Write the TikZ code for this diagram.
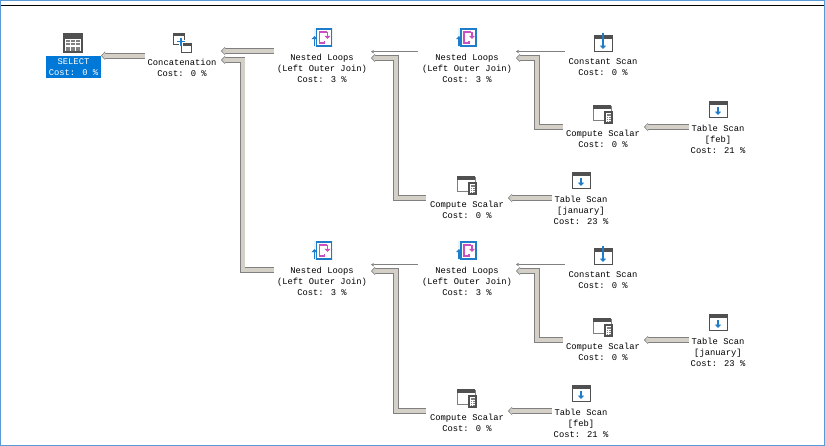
\documentclass[tikz,border=0pt]{standalone}
\usepackage{fontspec}
\setmainfont{Liberation Mono}
\usetikzlibrary{arrows.meta}
\definecolor{shaft}{HTML}{D4D0C8}
\definecolor{edge}{HTML}{808080}
\definecolor{frameblue}{HTML}{5B9BD5}
\definecolor{selblue}{HTML}{0078D7}
\definecolor{icoblue}{HTML}{1E7CC8}
\definecolor{icomag}{HTML}{C850C0}
\definecolor{icodark}{HTML}{505050}
\tikzset{
  x=0.75pt,y=-0.75pt,
  oplabel/.style={align=center,inner sep=0pt,font=\fontsize{6.6}{8.25}\selectfont,text=black},
  fat/.style={line width=4.2pt,draw=edge,line join=miter,
    -{Triangle[length=3pt,width=6.2pt]},
    postaction={draw=shaft,line width=3pt,shorten >=0.8pt,-{Triangle[length=2.2pt,width=4.6pt]}}},
  fatb/.style={line width=3.9pt,draw=edge,line join=miter,
    -{Triangle[length=3pt,width=6pt]},
    postaction={draw=shaft,line width=2.7pt,shorten >=0.8pt,-{Triangle[length=2.2pt,width=4.4pt]}}},
  thin conn/.style={line width=0.75pt,draw=edge,-{Triangle[length=2pt,width=2.4pt]}},
  win/.style={draw=icodark,line width=0.75pt,fill=white},
  pics/tscan/.style={code={
    \draw[win] (-9,-8) rectangle (9,8);
    \fill[icodark] (-9,-8) rectangle (9,-4);
    \draw[icoblue,line width=1.1pt,-{Triangle[length=2.6pt,width=4.6pt]}] (0,-2) -- (0,6);
  }},
  pics/cscan/.style={code={
    \draw[win] (-9,-8) rectangle (9,8);
    \fill[icodark] (-9,-8) rectangle (9,-4);
    \draw[icoblue,line width=1.1pt,-{Triangle[length=2.6pt,width=4.6pt]}] (0,-10) -- (0,6);
  }},
  pics/cscalar/.style={code={
    \draw[win,draw=gray] (-9,-8) -- (-9,6) -- (9,6) -- (9,-8) -- cycle;
    \fill[icodark] (-9,-9) rectangle (9,-5);
    \draw[icodark,line width=0.9pt,fill=white] (3,-2) rectangle (10,9);
    \fill[gray] (4.5,-0.5) rectangle (8.5,1.5);
    \foreach \yy in {3,5,7}{\fill[gray] (4.5,\yy) rectangle (6,\yy+1);\fill[gray] (7.2,\yy) rectangle (8.6,\yy+1);}
  }},
  pics/nloop/.style={code={
    \fill[icoblue!10] (-9,-10) rectangle (10,9);
    \draw[icoblue,line width=0.9pt,fill=white] (-6,-9) rectangle (9,8);
    \draw[icomag,line width=1.1pt] (2,-6) -- (-3,-6) -- (-3,5) -- (2,5) -- (2,3) (2,-6) -- (4,-6);
    \draw[icomag,line width=1.1pt,-{Triangle[length=2.4pt,width=4.4pt]}] (5,-6) -- (5,1);
    \draw[icoblue,line width=1pt,-{Triangle[length=2.4pt,width=4.6pt]}] (-8,8) -- (-8,-2);
  }},
  pics/seltab/.style={code={
    \fill[gray!25] (-9.5,-9.5) rectangle (9.5,9.5);
    \fill[icodark] (-9,-9) rectangle (9,-4.5);
    \fill[white] (-9,-4.5) rectangle (9,9);
    \draw[icodark,line width=0.9pt] (-9,-9) rectangle (9,9);
    \foreach \yy in {-3.5,0,3.5,6}{\foreach \xx in {-7.5,-2.5,2.5}{\fill[gray] (\xx,\yy) rectangle (\xx+4.2,\yy+2);}}
  }},
  pics/concat/.style={code={
    \draw[win] (-9,-9) rectangle (2,2);
    \fill[icodark] (-9,-9) rectangle (2,-6.5);
    \draw[win] (-1,1) rectangle (9.5,10);
    \fill[icodark] (-1,1) rectangle (9.5,3.5);
    \draw[white,line width=2.4pt] (-1,-5.5) -- (-1,3.5) (-5.5,-1) -- (3.5,-1);
    \draw[icoblue,line width=1.4pt] (-1,-5) -- (-1,3) (-5,-1) -- (3,-1);
  }},
}
\newcommand{\branch}[6]{%
  % #1 suffix, #2 y offset, #3 inner scan name, #4 inner cost, #5 outer scan name, #6 outer cost
  \begin{scope}[yshift=#2*-0.75pt]
    \pic at (322.5,38) {nloop};
    \node[oplabel] (nlo#1) at (322,68.5) {Nested Loops\\(Left Outer Join)\\Cost: 3 \%};
    \pic at (467,38) {nloop};
    \node[oplabel] (nli#1) at (467,68.5) {Nested Loops\\(Left Outer Join)\\Cost: 3 \%};
    \pic at (603,43) {cscan};
    \node[oplabel] (cs#1) at (603,67.5) {Constant Scan\\Cost: 0 \%};
    \pic at (602,114) {cscalar};
    \node[oplabel] (cu#1) at (603,138.5) {Compute Scalar\\Cost: 0 \%};
    \pic at (718,109) {tscan};
    \node[oplabel] (tu#1) at (718,139) {Table Scan\\{[#3]}\\Cost: #4 \%};
    \pic at (466,185) {cscalar};
    \node[oplabel] (cl#1) at (467,209.5) {Compute Scalar\\Cost: 0 \%};
    \pic at (581,180) {tscan};
    \node[oplabel] (tl#1) at (581,210) {Table Scan\\{[#5]}\\Cost: #6 \%};
    % ports
    \coordinate (pNLoA#1) at (371,51.7);
    \coordinate (pNLoB#1) at (371,58);
    \coordinate (bendO#1) at (396,58);
    \coordinate (pNLiOut#1) at (418,51.7);
    \coordinate (pNLiA#1) at (516,51.5);
    \coordinate (pNLiB#1) at (516,58);
    \coordinate (bendI#1) at (537,58);
    \coordinate (pCsOut#1) at (565,51.5);
    \coordinate (pCuOut#1) at (563,127);
    \coordinate (pCuIn#1) at (644,127);
    \coordinate (pTuOut#1) at (689,127);
    \coordinate (pClOut#1) at (426,198);
    \coordinate (pClIn#1) at (508,198);
    \coordinate (pTlOut#1) at (552,198);
  \end{scope}
  \draw[thin conn] (pNLiOut#1) -- (pNLoA#1);
  \draw[fatb] (pClOut#1) -| (bendO#1) -- (pNLoB#1);
  \draw[thin conn] (pCsOut#1) -- (pNLiA#1);
  \draw[fatb] (pCuOut#1) -| (bendI#1) -- (pNLiB#1);
  \draw[fat] (pTuOut#1) -- (pCuIn#1);
  \draw[fat] (pTlOut#1) -- (pClIn#1);
}
\begin{document}
\begin{tikzpicture}
\useasboundingbox (0,0) rectangle (825,446);
\fill[white] (0,0) rectangle (825,446);
% window frame
\draw[frameblue,line width=1.1pt] (0.7,0.7) rectangle (824.3,445.3);
\draw[black,line width=0.6pt] (1.4,5) -- (823.6,5);
% SELECT
\pic at (73,43) {seltab};
\node[fill=selblue,text=white,minimum width=41.25pt,minimum height=16.5pt,inner sep=0pt,align=center,font=\fontsize{6.6}{8.25}\selectfont] (sel) at (73.5,67) {SELECT\\Cost: 0 \%};
% Concatenation
\pic at (182,42.5) {concat};
\node[oplabel] (con) at (182,67.5) {Concatenation\\Cost: 0 \%};
\coordinate (selIn) at (101,55.7);
\coordinate (conOut) at (145,55.7);
\coordinate (conA) at (221,51);
\coordinate (conB) at (221,60);
\coordinate (nlTopOut) at (274,51);
\coordinate (nlBotOut) at (274,270);
\coordinate (bendC) at (242.7,60);
\branch{a}{0}{feb}{21}{january}{23}
\branch{b}{213}{january}{23}{feb}{21}
\draw[fat] (conOut) -- (selIn);
\draw[fat] (nlTopOut) -- (conA);
\draw[fatb] (nlBotOut) -| (bendC) -- (conB);
\end{tikzpicture}
\end{document}
